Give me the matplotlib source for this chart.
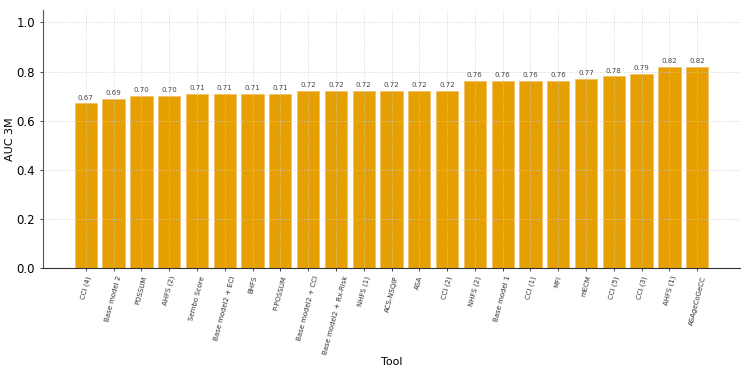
import numpy as np
import matplotlib.pyplot as plt

# Tools and their 3-month AUC
tools = ['CCI (4)', 'Base model 2', 'POSSUM', 'AHFS (2)', 'Sembo Score',
         'Base model2 + ECI', 'BHFS', 'P-POSSUM', 'Base model2 + CCI',
         'Base model2 + Rx-Risk', 'NHFS (1)', 'ACS-NSQIP', 'ASA', 'CCI (2)',
         'NHFS (2)', 'Base model 1', 'CCI (1)', 'MFI', 'mECM', 'CCI (5)',
         'CCI (3)', 'AHFS (1)', 'ASAgeCoGeCC']
auc_3m = [0.67, 0.69, 0.70, 0.70, 0.71, 0.71, 0.71, 0.71, 0.72, 0.72,
          0.72, 0.72, 0.72, 0.72, 0.76, 0.76, 0.76, 0.76, 0.77, 0.78,
          0.79, 0.82, 0.82]

fig = plt.figure(figsize=(7.5, 3.75), dpi=100)
ax = fig.add_axes([0.057, 0.285, 0.93, 0.688])

x = np.arange(len(tools))
ax.bar(x, auc_3m, width=0.8, color='#E69F00', edgecolor='#F2C266',
       linewidth=0.6, zorder=2)

for xi, v in zip(x, auc_3m):
    ax.text(xi, v + 0.012, f'{v:.2f}', ha='center', va='bottom',
            fontsize=5, color='#444444', zorder=4)

ax.set_xticks(x)
ax.set_xticklabels(tools, rotation=75, ha='center', fontsize=5, color='#333333')
ax.tick_params(axis='x', length=2, width=0.5, pad=3)
ax.tick_params(axis='y', labelsize=8.5, length=2, width=0.5)
ax.set_xlim(-1.55, 23.55)
ax.set_ylim(0, 1.05)

ax.grid(True, linestyle=':', color='#cccccc', linewidth=0.6, zorder=3)
ax.set_axisbelow(False)
for s in ['top', 'right']:
    ax.spines[s].set_visible(False)
ax.spines['left'].set_color('#555555')
ax.spines['bottom'].set_color('#333333')

ax.set_ylabel('AUC 3M', fontsize=8)
ax.yaxis.set_label_coords(-0.04, 0.5)
ax.set_xlabel('Tool', fontsize=8, labelpad=1)

fig.savefig('out.png', dpi=100)
